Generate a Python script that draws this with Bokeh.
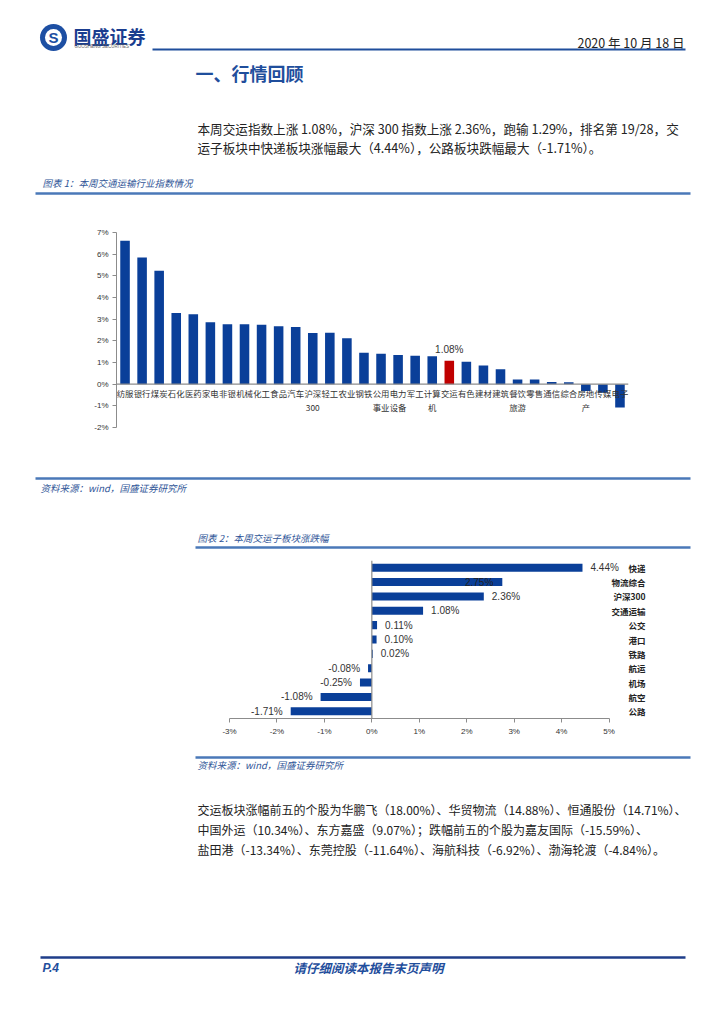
from bokeh.plotting import figure
from bokeh.layouts import column
from bokeh.models import Range1d, FactorRange, Span, FixedTicker, PrintfTickFormatter, ColumnDataSource
from bokeh.core.properties import value
from bokeh.embed import file_html
from bokeh.resources import INLINE

# ---------------- data ----------------
industries = ["纺服", "银行", "煤炭", "石化", "医药", "家电", "非银", "机械", "化工", "食品",
              "汽车", "沪深300", "轻工", "农业", "钢铁", "公用事业", "电力设备", "军工", "计算机", "交运",
              "有色", "建材", "建筑", "餐饮旅游", "零售", "通信", "综合", "房地产", "传媒", "电子"]
industry_values = [6.62, 5.85, 5.24, 3.29, 3.23, 2.86, 2.77, 2.76, 2.74, 2.67,
                   2.64, 2.36, 2.37, 2.12, 1.45, 1.40, 1.35, 1.31, 1.29, 1.08,
                   1.04, 0.86, 0.69, 0.22, 0.21, 0.10, 0.09, -0.32, -0.40, -1.08]
highlight = "交运"
y1_ticks = [-2, -1, 0, 1, 2, 3, 4, 5, 6, 7]

sectors = ["快递", "物流综合", "沪深300", "交通运输", "公交", "港口", "铁路", "航运", "机场", "航空", "公路"]
sector_values = [4.44, 2.75, 2.36, 1.08, 0.11, 0.10, 0.02, -0.08, -0.25, -1.08, -1.71]
x2_ticks = [-3, -2, -1, 0, 1, 2, 3, 4, 5]

# ---------------- style ----------------
W = 716
CJK = "Noto Sans CJK SC"
SANS = "Liberation Sans"
BAR = "#0a3f99"
RED = "#c00000"
DARKBLUE = "#1a3d8f"
LINEBLUE = "#4a78b8"
TXT = "#222222"


def page_fig(top, bottom):
    p = figure(width=W, height=bottom - top, x_range=Range1d(0, W), y_range=Range1d(bottom, top),
               x_axis_type=None, y_axis_type=None, toolbar_location=None, output_backend="svg",
               min_border=0, frame_align=False)
    p.outline_line_color = None
    p.grid.visible = False
    return p


def txt(p, x, y, s, size, color=TXT, align="left", style="normal", font=CJK):
    p.text(x=[x], y=[y], text=[s], text_font=value(font), text_font_size=f"{size}px",
           text_color=color, text_align=align, text_baseline="middle", text_font_style=style)


def hline(p, x0, x1, y, color, w=2):
    p.segment(x0=[x0], y0=[y], x1=[x1], y1=[y], line_color=color, line_width=w)


# ---------------- header (page y 0..220) ----------------
h = page_fig(0, 220)
h.scatter(x=[53], y=[37], size=27, marker="circle", fill_color="#1d4fa3", line_color=None)
h.scatter(x=[53], y=[37], size=17, marker="circle", fill_color="white", line_color=None)
txt(h, 53, 37, "S", 15, color="#1d4fa3", align="center", style="bold", font=SANS)
txt(h, 73, 35, "国盛证券", 18, color=DARKBLUE, style="bold")
txt(h, 74, 46, "GUOSHENG SECURITIES", 4.5, color="#666666", font=SANS)
txt(h, 684, 42, "2020 年 10 月 18 日", 12.5, color=TXT, align="right")
hline(h, 152, 685, 49, "#1f4e9c", 2)
txt(h, 195, 72, "一、行情回顾", 18, color="#1f4e9c", style="bold")
txt(h, 197, 128, "本周交运指数上涨 1.08%，沪深 300 指数上涨 2.36%，跑输 1.29%，排名第 19/28，交", 12.6)
txt(h, 197, 147, "运子板块中快递板块涨幅最大（4.44%），公路板块跌幅最大（-1.71%）。", 12.6)
txt(h, 42, 182, "图表 1：本周交通运输行业指数情况", 9.5, color="#2f5597", style="italic")
hline(h, 35, 690, 193, LINEBLUE, 2.5)

# ---------------- chart 1 (page y 220..450) ----------------
colors1 = [RED if n == highlight else BAR for n in industries]
line1 = [n[:2] for n in industries]
line2 = [n[2:] for n in industries]
src1 = ColumnDataSource(dict(cat=industries, val=industry_values, color=colors1, l1=line1, l2=line2))

c1 = figure(width=W, height=230, x_range=FactorRange(*industries), y_range=Range1d(-2, 7),
            x_axis_type=None, toolbar_location=None, output_backend="svg", frame_align=False,
            min_border_left=116, min_border_right=88, min_border_top=12, min_border_bottom=23)
c1.outline_line_color = None
c1.grid.visible = False
c1.vbar(x="cat", top="val", width=0.56, fill_color="color", line_color=None, source=src1)
c1.add_layout(Span(location=0, dimension="width", line_color="#8c8c8c", line_width=1.2))
c1.text(x="cat", y=-0.43, text="l1", source=src1, text_font=value(CJK), text_font_size="8.4px",
        text_color="#333333", text_align="center", text_baseline="middle")
c1.text(x="cat", y=-1.06, text="l2", source=src1, text_font=value(CJK), text_font_size="8.4px",
        text_color="#333333", text_align="center", text_baseline="middle")
hi = industries.index(highlight)
c1.text(x=[industries[hi]], y=[industry_values[hi] + 0.5], text=[f"{industry_values[hi]:.2f}%"],
        text_font=value(SANS), text_font_size="10px", text_color="#333333",
        text_align="center", text_baseline="middle")
ya = c1.yaxis[0]
ya.ticker = FixedTicker(ticks=y1_ticks)
ya.formatter = PrintfTickFormatter(format="%d%%")
ya.major_label_text_font = SANS
ya.major_label_text_font_size = "8px"
ya.major_label_text_color = "#333333"
ya.axis_line_color = "#8c8c8c"
ya.major_tick_line_color = "#8c8c8c"
ya.major_tick_out = 4
ya.major_tick_in = 0
ya.minor_tick_line_color = None
ya.major_label_standoff = 4

# ---------------- middle (page y 450..555) ----------------
m = page_fig(450, 555)
hline(m, 35, 690, 478, LINEBLUE, 2.5)
txt(m, 40, 487, "资料来源：wind，国盛证券研究所", 9.5, color="#2f5597", style="italic")
txt(m, 197, 537, "图表 2：本周交运子板块涨跌幅", 9.5, color="#2f5597", style="italic")
hline(m, 195, 690, 547, LINEBLUE, 2.5)

# ---------------- chart 2 (page y 555..750) ----------------
src2 = ColumnDataSource(dict(cat=sectors, val=sector_values))
c2 = figure(width=W, height=195, x_range=Range1d(-3, 6), y_range=FactorRange(*reversed(sectors)),
            y_axis_type=None, toolbar_location=None, output_backend="svg", frame_align=False,
            min_border_left=229, min_border_right=60, min_border_top=5, min_border_bottom=32)
c2.outline_line_color = None
c2.grid.visible = False
c2.hbar(y="cat", right="val", left=0, height=0.56, fill_color=BAR, line_color=None, source=src2)
c2.add_layout(Span(location=0, dimension="height", line_color="#8c8c8c", line_width=1.2))
for s, v in zip(sectors, sector_values):
    lab = f"{v:.2f}%"
    if v >= 0 and v != 2.75:
        c2.text(x=[v], y=[s], text=[lab], x_offset=8, text_font=value(SANS), text_font_size="10px",
                text_color="#333333", text_align="left", text_baseline="middle")
    elif v >= 0:
        c2.text(x=[v], y=[s], text=[lab], x_offset=-9, text_font=value(SANS), text_font_size="10px",
                text_color="#222222", text_align="right", text_baseline="middle")
    else:
        c2.text(x=[v], y=[s], text=[lab], x_offset=-8, text_font=value(SANS), text_font_size="10px",
                text_color="#333333", text_align="right", text_baseline="middle")
c2.text(x=6, y="cat", text="cat", source=src2, x_offset=-11, text_font=value(CJK),
        text_font_size="8.5px", text_color="#222222", text_align="right", text_baseline="middle",
        text_font_style="bold")
xa = c2.xaxis[0]
xa.ticker = FixedTicker(ticks=x2_ticks)
xa.bounds = (-3, 5)
xa.formatter = PrintfTickFormatter(format="%d%%")
xa.major_label_text_font = SANS
xa.major_label_text_font_size = "8px"
xa.major_label_text_color = "#333333"
xa.axis_line_color = "#8c8c8c"
xa.major_tick_line_color = "#8c8c8c"
xa.major_tick_out = 4
xa.major_tick_in = 0
xa.minor_tick_line_color = None
xa.major_label_standoff = 4

# ---------------- bottom (page y 750..1016) ----------------
b = page_fig(750, 1016)
hline(b, 195, 690, 757, LINEBLUE, 2.5)
txt(b, 197, 764, "资料来源：wind，国盛证券研究所", 9.5, color="#2f5597", style="italic")
txt(b, 197, 809, "交运板块涨幅前五的个股为华鹏飞（18.00%）、华贸物流（14.88%）、恒通股份（14.71%）、", 12)
txt(b, 197, 829, "中国外运（10.34%）、东方嘉盛（9.07%）；跌幅前五的个股为嘉友国际（-15.59%）、", 12)
txt(b, 197, 849, "盐田港（-13.34%）、东莞控股（-11.64%）、海航科技（-6.92%）、渤海轮渡（-4.84%）。", 12)
hline(b, 40, 685, 957, "#1f3e8a", 2.5)
txt(b, 42, 967, "P.4", 12, color="#1f4e9c", style="bold italic", font=SANS)
txt(b, 368, 967, "请仔细阅读本报告末页声明", 12.5, color="#1f4e9c", align="center", style="bold italic")

page = column(h, c1, m, c2, b, spacing=0)
open("out.html", "w").write(file_html(page, INLINE))
